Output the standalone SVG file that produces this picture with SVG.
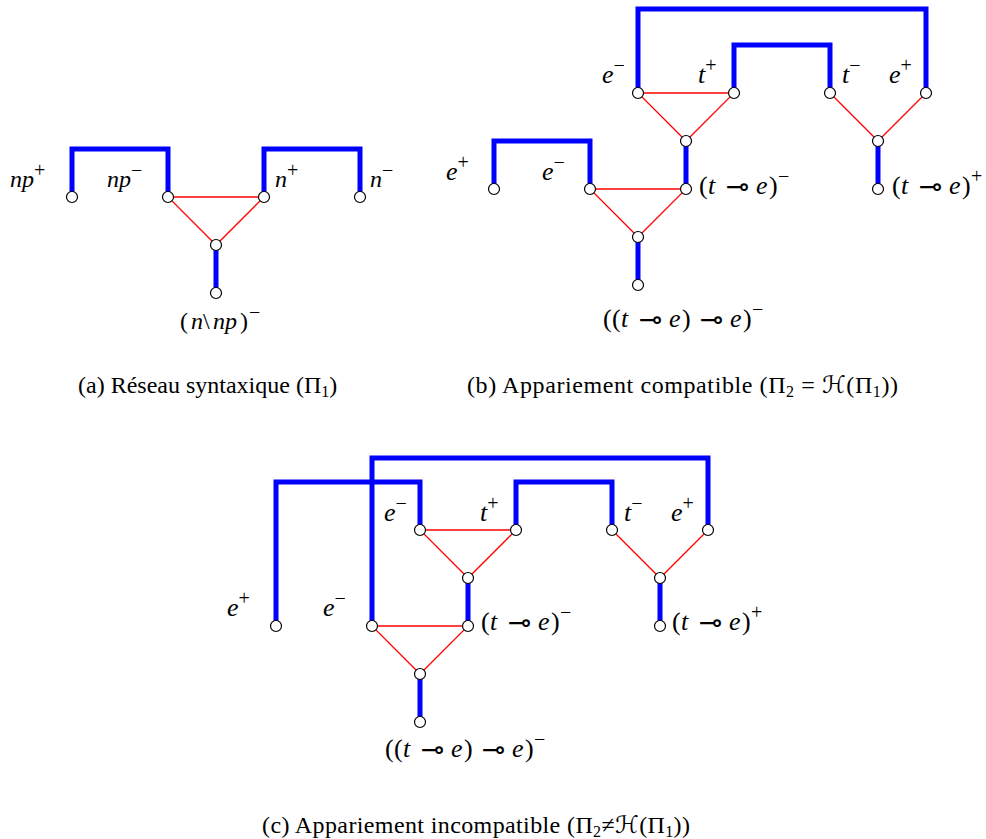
<svg xmlns="http://www.w3.org/2000/svg" width="986" height="839" viewBox="0 0 986 839">
<style>
.blue{fill:none;stroke:#0000ff;stroke-width:5;stroke-linejoin:miter;stroke-linecap:butt}
.red{fill:none;stroke:#ff0000;stroke-width:1.3}
.node circle{fill:#ffffff;stroke:#000000;stroke-width:1.2}
text{font-family:"Liberation Serif","Times New Roman",serif;font-size:24px;fill:#000000}
.m{font-size:26px}
.mi,.it{font-style:italic}
.sup{font-size:20px;font-style:normal}
.lolli{font-family:"DejaVu Sans",sans-serif;font-size:28px;font-style:normal}
.cap{font-size:24px}
.sub{font-size:16px}
.cal{font-family:"DejaVu Serif","DejaVu Sans",serif;font-style:italic}
</style>
<rect width="986" height="839" fill="#ffffff"/>
<g id="connectors">
  <polyline class="blue" points="72,197 72,149 168,149 168,197"/>
  <polyline class="blue" points="264,197 264,149 360,149 360,197"/>
  <polyline class="blue" points="216,245 216,293"/>
  <polygon class="red" points="168,197 264,197 216,245"/>
  <polyline class="blue" points="638,93 638,9 926,9 926,93"/>
  <polyline class="blue" points="734,93 734,45 830,45 830,93"/>
  <polyline class="blue" points="494,189 494,141 590,141 590,189"/>
  <polyline class="blue" points="686,141 686,189"/>
  <polyline class="blue" points="878,141 878,189"/>
  <polyline class="blue" points="638,237 638,285"/>
  <polygon class="red" points="638,93 734,93 686,141"/>
  <polyline class="red" points="830,93 878,141 926,93"/>
  <polygon class="red" points="590,189 686,189 638,237"/>
  <polyline class="blue" points="372,626 372,458 708,458 708,530"/>
  <polyline class="blue" points="276,626 276,482 420,482 420,530"/>
  <polyline class="blue" points="516,530 516,482 612,482 612,530"/>
  <polyline class="blue" points="468,578 468,626"/>
  <polyline class="blue" points="660,578 660,626"/>
  <polyline class="blue" points="420,674 420,722"/>
  <polygon class="red" points="420,530 516,530 468,578"/>
  <polyline class="red" points="612,530 660,578 708,530"/>
  <polygon class="red" points="372,626 468,626 420,674"/>
</g>

<!-- Panel (a) -->
<g id="a-np-plus" class="node"><circle cx="72" cy="197" r="5.5"/><text x="10" y="187" class="mi">np<tspan class="sup" dy="-10">+</tspan></text></g>
<g id="a-np-minus" class="node"><circle cx="168" cy="197" r="5.5"/><text x="107" y="187" class="mi">np<tspan class="sup" dy="-10">−</tspan></text></g>
<g id="a-n-plus" class="node"><circle cx="264" cy="197" r="5.5"/><text x="275" y="187" class="mi">n<tspan class="sup" dy="-10">+</tspan></text></g>
<g id="a-n-minus" class="node"><circle cx="360" cy="197" r="5.5"/><text x="370" y="187" class="mi">n<tspan class="sup" dy="-10">−</tspan></text></g>
<g id="a-par" class="node"><circle cx="216" cy="245" r="5.5"/></g>
<g id="a-root" class="node"><circle cx="216" cy="293" r="5.5"/><text y="329"><tspan x="180">(</tspan><tspan x="191" class="it">n</tspan><tspan x="203">\</tspan><tspan x="213" class="it">np</tspan><tspan x="240">)</tspan><tspan x="249" dy="-10" class="sup">−</tspan></text></g>
<text id="cap-a" class="cap" x="78" y="393">(a) Réseau syntaxique (Π<tspan class="sub" dy="4">1</tspan><tspan dy="-4">)</tspan></text>

<!-- Panel (b) -->
<g id="b-e-minus-top" class="node"><circle cx="638" cy="93" r="5.5"/><text x="602" y="83" class="mi m">e<tspan class="sup" dy="-11">−</tspan></text></g>
<g id="b-t-plus" class="node"><circle cx="734" cy="93" r="5.5"/><text x="698" y="83" class="mi m">t<tspan class="sup" dy="-11">+</tspan></text></g>
<g id="b-t-minus" class="node"><circle cx="830" cy="93" r="5.5"/><text x="842" y="83" class="mi m">t<tspan class="sup" dy="-11">−</tspan></text></g>
<g id="b-e-plus-top" class="node"><circle cx="926" cy="93" r="5.5"/><text x="889" y="83" class="mi m">e<tspan class="sup" dy="-11">+</tspan></text></g>
<g id="b-tens1" class="node"><circle cx="686" cy="141" r="5.5"/></g>
<g id="b-par2" class="node"><circle cx="878" cy="141" r="5.5"/></g>
<g id="b-e-plus" class="node"><circle cx="494" cy="189" r="5.5"/><text x="446" y="180" class="mi m">e<tspan class="sup" dy="-11">+</tspan></text></g>
<g id="b-e-minus" class="node"><circle cx="590" cy="189" r="5.5"/><text x="542" y="180" class="mi m">e<tspan class="sup" dy="-11">−</tspan></text></g>
<g id="b-te-minus" class="node"><circle cx="686" cy="189" r="5.5"/><text y="194" class="m"><tspan x="699">(</tspan><tspan x="708" class="it">t</tspan><tspan x="726" dy="2" class="lolli">⊸</tspan><tspan x="756" dy="-2" class="it">e</tspan><tspan x="769">)</tspan><tspan x="778" dy="-11" class="sup">−</tspan></text></g>
<g id="b-te-plus" class="node"><circle cx="878" cy="189" r="5.5"/><text y="194" class="m"><tspan x="892">(</tspan><tspan x="901" class="it">t</tspan><tspan x="919" dy="2" class="lolli">⊸</tspan><tspan x="949" dy="-2" class="it">e</tspan><tspan x="962">)</tspan><tspan x="971" dy="-11" class="sup">+</tspan></text></g>
<g id="b-tens2" class="node"><circle cx="638" cy="237" r="5.5"/></g>
<g id="b-root" class="node"><circle cx="638" cy="285" r="5.5"/><text y="327" class="m"><tspan x="603">(</tspan><tspan x="612">(</tspan><tspan x="621" class="it">t</tspan><tspan x="639" dy="2" class="lolli">⊸</tspan><tspan x="669" dy="-2" class="it">e</tspan><tspan x="682">)</tspan><tspan x="700" dy="2" class="lolli">⊸</tspan><tspan x="730" dy="-2" class="it">e</tspan><tspan x="743">)</tspan><tspan x="752" dy="-11" class="sup">−</tspan></text></g>
<text id="cap-b" class="cap" x="467" y="393" textLength="431" lengthAdjust="spacing">(b) Appariement compatible (Π<tspan class="sub" dy="4">2</tspan><tspan dy="-4"> = </tspan><tspan class="cal">ℋ</tspan>(Π<tspan class="sub" dy="4">1</tspan><tspan dy="-4">))</tspan></text>

<!-- Panel (c) -->
<g id="c-e-minus-top" class="node"><circle cx="420" cy="530" r="5.5"/><text x="384" y="521" class="mi m">e<tspan class="sup" dy="-11">−</tspan></text></g>
<g id="c-t-plus" class="node"><circle cx="516" cy="530" r="5.5"/><text x="480" y="521" class="mi m">t<tspan class="sup" dy="-11">+</tspan></text></g>
<g id="c-t-minus" class="node"><circle cx="612" cy="530" r="5.5"/><text x="624" y="521" class="mi m">t<tspan class="sup" dy="-11">−</tspan></text></g>
<g id="c-e-plus-top" class="node"><circle cx="708" cy="530" r="5.5"/><text x="671" y="521" class="mi m">e<tspan class="sup" dy="-11">+</tspan></text></g>
<g id="c-tens1" class="node"><circle cx="468" cy="578" r="5.5"/></g>
<g id="c-par2" class="node"><circle cx="660" cy="578" r="5.5"/></g>
<g id="c-e-plus" class="node"><circle cx="276" cy="626" r="5.5"/><text x="227" y="616" class="mi m">e<tspan class="sup" dy="-11">+</tspan></text></g>
<g id="c-e-minus" class="node"><circle cx="372" cy="626" r="5.5"/><text x="323" y="616" class="mi m">e<tspan class="sup" dy="-11">−</tspan></text></g>
<g id="c-te-minus" class="node"><circle cx="468" cy="626" r="5.5"/><text y="630" class="m"><tspan x="481">(</tspan><tspan x="490" class="it">t</tspan><tspan x="508" dy="2" class="lolli">⊸</tspan><tspan x="538" dy="-2" class="it">e</tspan><tspan x="551">)</tspan><tspan x="560" dy="-11" class="sup">−</tspan></text></g>
<g id="c-te-plus" class="node"><circle cx="660" cy="626" r="5.5"/><text y="630" class="m"><tspan x="672">(</tspan><tspan x="681" class="it">t</tspan><tspan x="699" dy="2" class="lolli">⊸</tspan><tspan x="729" dy="-2" class="it">e</tspan><tspan x="742">)</tspan><tspan x="751" dy="-11" class="sup">+</tspan></text></g>
<g id="c-tens2" class="node"><circle cx="420" cy="674" r="5.5"/></g>
<g id="c-root" class="node"><circle cx="420" cy="722" r="5.5"/><text y="757" class="m"><tspan x="385">(</tspan><tspan x="394">(</tspan><tspan x="403" class="it">t</tspan><tspan x="421" dy="2" class="lolli">⊸</tspan><tspan x="451" dy="-2" class="it">e</tspan><tspan x="464">)</tspan><tspan x="482" dy="2" class="lolli">⊸</tspan><tspan x="512" dy="-2" class="it">e</tspan><tspan x="525">)</tspan><tspan x="534" dy="-11" class="sup">−</tspan></text></g>
<text id="cap-c" class="cap" x="262" y="833" textLength="428" lengthAdjust="spacing">(c) Appariement incompatible (Π<tspan class="sub" dy="4">2</tspan><tspan dy="-4">≠</tspan><tspan class="cal">ℋ</tspan>(Π<tspan class="sub" dy="4">1</tspan><tspan dy="-4">))</tspan></text>
</svg>
